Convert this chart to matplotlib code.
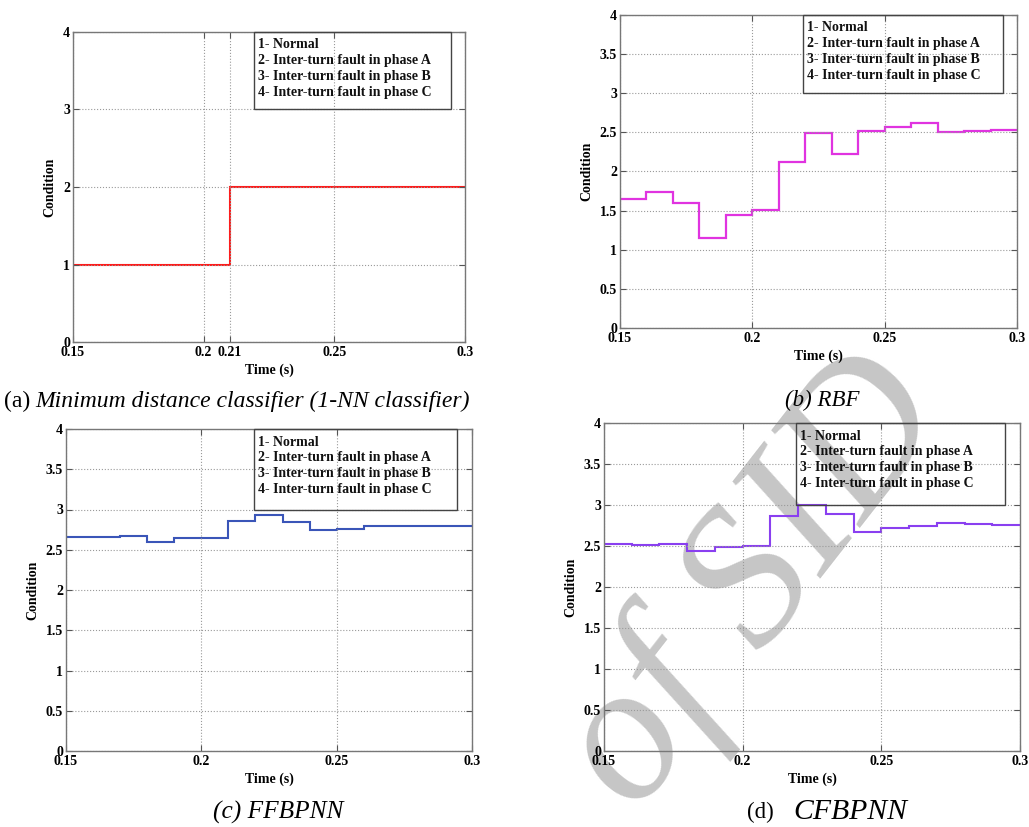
import numpy as np
import matplotlib
matplotlib.use("Agg")
import matplotlib.pyplot as plt
from matplotlib.patches import Rectangle

plt.rcParams['font.family'] = ['Liberation Serif', 'DejaVu Serif']
plt.rcParams['font.weight'] = 'bold'

W, H = 1029, 827

# ---- data ----
legend_lines = ['1- Normal',
                '2- Inter-turn fault in phase A',
                '3- Inter-turn fault in phase B',
                '4- Inter-turn fault in phase C']

# (a) 1-NN classifier
knn_edges = [0.15, 0.21, 0.30]
knn_cond = [1, 2]

# (b), (c), (d): one value every 10 ms
time_edges = [0.15, 0.16, 0.17, 0.18, 0.19, 0.20, 0.21, 0.22,
              0.23, 0.24, 0.25, 0.26, 0.27, 0.28, 0.29, 0.30]
rbf_cond = [1.65, 1.74, 1.60, 1.15, 1.45, 1.51, 2.12, 2.49,
            2.23, 2.52, 2.57, 2.62, 2.50, 2.52, 2.53]
ffbpnn_cond = [2.66, 2.66, 2.67, 2.60, 2.64, 2.64, 2.855, 2.93,
               2.84, 2.74, 2.76, 2.79, 2.79, 2.80, 2.80]
cfbpnn_cond = [2.53, 2.51, 2.52, 2.44, 2.49, 2.50, 2.86, 3.00,
               2.89, 2.67, 2.72, 2.74, 2.78, 2.77, 2.76]

xticks_a = [0.15, 0.2, 0.21, 0.25, 0.3]
xticks = [0.15, 0.2, 0.25, 0.3]
yticks_a = [0, 1, 2, 3, 4]
yticks = [0, 0.5, 1, 1.5, 2, 2.5, 3, 3.5, 4]


def fmt(v):
    s = ('%.2f' % v).rstrip('0').rstrip('.')
    return s


fig = plt.figure(figsize=(W / 100, H / 100), dpi=100)


def make_axes(box_px):
    x0, y0, x1, y1 = box_px
    ax = fig.add_axes([x0 / W, 1 - y1 / H, (x1 - x0) / W, (y1 - y0) / H])
    ax.set_facecolor('none')
    return ax


def style(ax, xt, yt):
    ax.set_xlim(0.15, 0.3)
    ax.set_ylim(0, 4)
    ax.set_xticks(xt)
    ax.set_xticklabels([fmt(v) for v in xt])
    ax.set_yticks(yt)
    ax.set_yticklabels([fmt(v) for v in yt])
    ax.tick_params(direction='in', top=True, right=True, length=4,
                   width=0.8, color='#555555', labelsize=10, pad=3)
    ax.tick_params(axis='y', pad=2)
    for sp in ax.spines.values():
        sp.set_color('#777777')
        sp.set_linewidth(1.0)
    ax.grid(True, linestyle=':', color='#9a9a9a', linewidth=0.8)
    ax.set_xlabel('Time (s)', fontsize=10, fontweight='bold', labelpad=3)
    ax.set_ylabel('Condition', fontsize=10, fontweight='bold', labelpad=5)
    # condition legend drawn as a text box
    ax.add_patch(Rectangle((0.462, 0.75), 0.502, 0.25, transform=ax.transAxes,
                           fill=False, edgecolor='#444444', linewidth=1.0,
                           clip_on=False, zorder=5))
    for i, line in enumerate(legend_lines):
        ax.annotate(line, xy=(0.462, 1.0), xycoords='axes fraction',
                    xytext=(4, -13 - 16 * i), textcoords='offset pixels',
                    fontsize=10, fontweight='bold', va='center', ha='left',
                    color='#111111', zorder=6)


ax_a = make_axes((73, 32, 465, 342))
ax_a.stairs(knn_cond, knn_edges, color='#ff1a1a', linewidth=1.5, baseline=None)
style(ax_a, xticks_a, yticks_a)

ax_b = make_axes((620, 15, 1017, 328))
ax_b.stairs(rbf_cond, time_edges, color='#e033e0', linewidth=1.6, baseline=None)
style(ax_b, xticks, yticks)

ax_c = make_axes((66, 429, 472, 751))
ax_c.stairs(ffbpnn_cond, time_edges, color='#3a55b8', linewidth=1.5, baseline=None)
style(ax_c, xticks, yticks)

ax_d = make_axes((604, 423, 1020, 751))
ax_d.stairs(cfbpnn_cond, time_edges, color='#8a3ff0', linewidth=1.5, baseline=None)
style(ax_d, xticks, yticks)

# ---- captions ----
renderer = fig.canvas.get_renderer()


def caption(x_px, y_px, parts):
    x = x_px
    for txt, st, size, gap in parts:
        t = fig.text(x / W, 1 - y_px / H, txt, fontstyle=st, fontsize=size,
                     fontweight='normal', va='center', ha='left',
                     family=['Liberation Serif'])
        bb = t.get_window_extent(renderer)
        x = bb.x1 + gap


caption(4, 401, [('(a)', 'normal', 17, 5),
                 ('Minimum distance classifier (1-NN classifier)', 'italic', 17, 0)])
caption(785, 400, [('(b) RBF', 'italic', 16.5, 0)])
caption(213, 812, [('(c) FFBPNN', 'italic', 18.3, 0)])
caption(747, 812, [('(d)', 'normal', 16.5, 20),
                   ('CFBPNN', 'italic', 21.4, 0)])

# watermark behind the panels
fig.text(755 / W, 1 - 585 / H, 'of SID', fontsize=142, fontstyle='italic',
         fontweight='normal', family=['Liberation Serif'], color='#c6c6c6',
         rotation=52, ha='center', va='center', rotation_mode='anchor', zorder=-1)

fig.savefig('out.png', dpi=100)
